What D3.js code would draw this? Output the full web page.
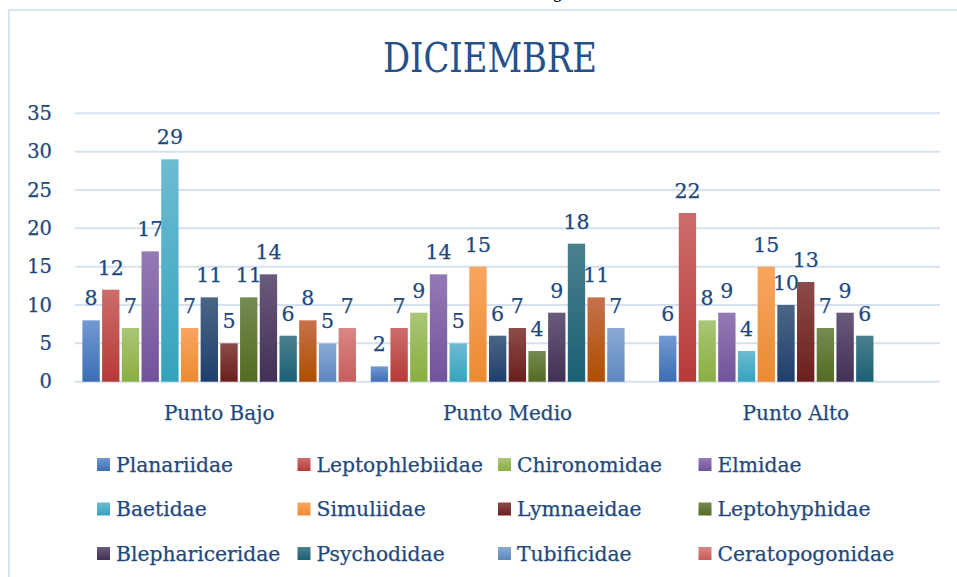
<!DOCTYPE html>
<html>
<head>
    <meta charset="utf-8">
    <title>diciembre</title>
    <style>
        body { margin: 0; background: #fff; }
        svg { display: block; }
    </style>
</head>
<body>
    <svg id="chart" width="957" height="577"></svg>

    <script src="https://cdn.jsdelivr.net/npm/d3@7/dist/d3.min.js"></script>
    <script>

    // data
    var categories = ['Punto Bajo', 'Punto Medio', 'Punto Alto']
    var families = ['Planariidae', 'Leptophlebiidae', 'Chironomidae', 'Elmidae',
        'Baetidae', 'Simuliidae', 'Serie 7', 'Lymnaeidae', 'Leptohyphidae',
        'Blephariceridae', 'Psychodidae', 'Serie 12', 'Tubificidae', 'Ceratopogonidae']
    var puntoBajo  = [8, 12, 7, 17, 29, 7, 11, 5, 11, 14, 6, 8, 5, 7]
    var puntoMedio = [2, 7, 9, 14, 5, 15, 6, 7, 4, 9, 18, 11, 7, null]
    var puntoAlto  = [6, 22, 8, 9, 4, 15, 10, 13, 7, 9, 6, null, null, null]
    var yTicks = [0, 5, 10, 15, 20, 25, 30, 35]
    // series 7 and 12 have no entry in the legend
    var legendFamilies = ['Planariidae', 'Leptophlebiidae', 'Chironomidae', 'Elmidae',
        'Baetidae', 'Simuliidae', 'Lymnaeidae', 'Leptohyphidae',
        'Blephariceridae', 'Psychodidae', 'Tubificidae', 'Ceratopogonidae']

    var values = [puntoBajo, puntoMedio, puntoAlto]

    // gradient colours, top -> bottom
    var topColors = ['#7299d1', '#cd6d6a', '#aac676', '#947ab4', '#6dbcd2', '#f9a660',
        '#4b6587', '#8b4b49', '#748b52', '#6a5a7b', '#4b808f', '#c6714a', '#8aaad5', '#d98785']
    var bottomColors = ['#3c6db4', '#b63a37', '#89ae40', '#71539a', '#35a3bd', '#ec8a30',
        '#1f3f6b', '#6c1f1d', '#546b22', '#423056', '#1a6074', '#af4e00', '#5e87bf', '#c65e5c']

    var textColor = '#1f497d'
    var font = 'DejaVu Serif'

    var svg = d3.select('#chart')
    var defs = svg.append('defs')

    families.forEach(function(f, i){
        var g = defs.append('linearGradient')
            .attr('id', 'grad' + i)
            .attr('x1', 0).attr('y1', 0).attr('x2', 0).attr('y2', 1)
        g.append('stop').attr('offset', '0%').attr('stop-color', topColors[i])
        g.append('stop').attr('offset', '100%').attr('stop-color', bottomColors[i])
    })

    // chart frame (right and bottom edges fall outside the picture)
    svg.append('rect')
        .attr('x', 9).attr('y', 10)
        .attr('width', 1000).attr('height', 700)
        .attr('fill', 'none')
        .attr('stroke', '#dae5f2')
        .attr('stroke-width', 2)

    // bit of caption text cut off above the frame
    svg.append('text')
        .attr('x', 558).attr('y', -2)
        .attr('text-anchor', 'middle')
        .attr('font-family', font)
        .attr('font-size', 18)
        .attr('fill', '#000')
        .text('g')

    // title
    svg.append('text')
        .attr('x', 490).attr('y', 72)
        .attr('text-anchor', 'middle')
        .attr('font-family', font)
        .attr('font-size', 41)
        .attr('textLength', 214)
        .attr('lengthAdjust', 'spacingAndGlyphs')
        .attr('fill', '#25508a')
        .text('DICIEMBRE')

    var y = d3.scaleLinear().domain([0, 35]).range([381.7, 113.3])
    var x0 = d3.scaleBand().domain(categories).range([75, 940])
    var x1 = d3.scaleBand().domain(d3.range(families.length))
        .range([0, x0.bandwidth()])
        .paddingInner(0.12)
        .paddingOuter(0.375)

    // gridlines
    svg.append('g').selectAll('line')
        .data(yTicks)
        .enter().append('line')
        .attr('x1', 75).attr('x2', 940)
        .attr('y1', function(d){ return y(d) })
        .attr('y2', function(d){ return y(d) })
        .attr('stroke', '#d5e1f0')
        .attr('stroke-width', 2)

    // y axis
    var yAxis = svg.append('g')
        .attr('transform', 'translate(75,0)')
        .call(d3.axisLeft(y).tickValues(yTicks).tickSize(0).tickPadding(23))
    yAxis.select('.domain').remove()
    yAxis.selectAll('text')
        .attr('font-family', font)
        .attr('font-size', 19.5)
        .attr('fill', textColor)
        .attr('stroke', textColor)
        .attr('stroke-width', 0.25)

    // x axis
    var xAxis = svg.append('g')
        .attr('transform', 'translate(0,381.7)')
        .call(d3.axisBottom(x0).tickSize(0))
    xAxis.select('.domain').remove()
    xAxis.selectAll('text')
        .attr('y', 38)
        .attr('dy', 0)
        .attr('font-family', font)
        .attr('font-size', 20)
        .attr('fill', textColor)
        .attr('stroke', textColor)
        .attr('stroke-width', 0.25)

    // bars
    var groups = svg.append('g').selectAll('g')
        .data(categories)
        .enter().append('g')
        .attr('transform', function(d){ return 'translate(' + x0(d) + ',0)' })

    var cells = groups.selectAll('g')
        .data(function(d, ci){
            return values[ci].map(function(v, si){ return { s: si, v: v } })
                .filter(function(o){ return o.v != null })
        })
        .enter().append('g')

    cells.append('rect')
        .attr('x', function(d){ return x1(d.s) })
        .attr('width', x1.bandwidth())
        .attr('y', function(d){ return y(d.v) })
        .attr('height', function(d){ return y(0) - y(d.v) })
        .attr('fill', function(d){ return 'url(#grad' + d.s + ')' })

    cells.append('text')
        .attr('x', function(d){ return x1(d.s) + x1.bandwidth() / 2 })
        .attr('y', function(d){ return y(d.v) - 15 })
        .attr('text-anchor', 'middle')
        .attr('font-family', font)
        .attr('font-size', 20.5)
        .attr('fill', textColor)
        .attr('stroke', textColor)
        .attr('stroke-width', 0.25)
        .text(function(d){ return d.v })

    // legend, 4 columns
    var legend = svg.append('g').selectAll('g')
        .data(legendFamilies)
        .enter().append('g')
        .attr('transform', function(d, i){
            return 'translate(' + (97 + (i % 4) * 200.5) + ',' + (458 + Math.floor(i / 4) * 44.5) + ')'
        })

    legend.append('rect')
        .attr('width', 13).attr('height', 13)
        .attr('fill', function(d){ return 'url(#grad' + families.indexOf(d) + ')' })

    legend.append('text')
        .attr('x', 19).attr('y', 13.5)
        .attr('font-family', font)
        .attr('font-size', 20.3)
        .attr('fill', textColor)
        .attr('stroke', textColor)
        .attr('stroke-width', 0.25)
        .text(function(d){ return d })

    </script>
</body>
</html>
